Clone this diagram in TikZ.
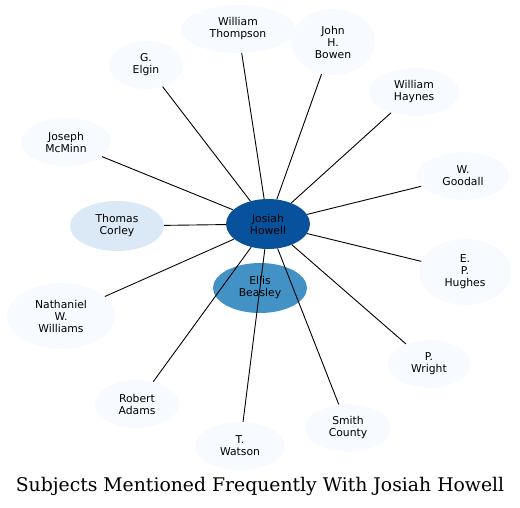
\documentclass[tikz,border=0pt]{standalone}
\usepackage{fontspec}
\setmainfont{DejaVu Serif}
\newfontfamily\subjfont{DejaVu Sans}
\usetikzlibrary{shapes.geometric}
\definecolor{palesubj}{HTML}{F7FBFF}
\definecolor{lightsubj}{HTML}{DBE9F6}
\definecolor{midsubj}{HTML}{4292C6}
\definecolor{hubsubj}{HTML}{08519C}
\tikzset{
  subj/.style={ellipse, fill=palesubj, inner sep=0pt, align=center,
    font=\subjfont\fontsize{10.8}{12}\selectfont},
  subjlink/.style={draw=black, line width=0.9pt},
  figtitle/.style={font=\fontsize{18.8}{22}\selectfont},
}

\begin{document}
\begin{tikzpicture}[x=1pt, y=-1pt]
  \useasboundingbox (0,0) rectangle (520,507);
  % centre and its closest subjects
  \node[subj, fill=hubsubj, minimum width=84pt, minimum height=50pt] (howell) at (268,224) {Josiah\\Howell};
  \node[subj, fill=midsubj, minimum width=94pt, minimum height=50pt] (beasley) at (260,288) {Ellis\\Beasley};
  \node[subj, fill=lightsubj, minimum width=94pt, minimum height=50pt] (corley) at (117,226) {Thomas\\Corley};
  % outer ring
  \node[subj, minimum width=114pt, minimum height=48pt] (thompson) at (238,29) {William\\Thompson};
  \node[subj, minimum width=84pt, minimum height=66pt] (bowen) at (333,42) {John\\H.\\Bowen};
  \node[subj, minimum width=74pt, minimum height=48pt] (elgin) at (146,65) {G.\\Elgin};
  \node[subj, minimum width=90pt, minimum height=48pt] (haynes) at (414,92) {William\\Haynes};
  \node[subj, minimum width=90pt, minimum height=48pt] (mcminn) at (66,142) {Joseph\\McMinn};
  \node[subj, minimum width=92pt, minimum height=48pt] (goodall) at (463,176) {W.\\Goodall};
  \node[subj, minimum width=92pt, minimum height=66pt] (hughes) at (465,272) {E.\\P.\\Hughes};
  \node[subj, minimum width=108pt, minimum height=66pt] (williams) at (61,316) {Nathaniel\\W.\\Williams};
  \node[subj, minimum width=82pt, minimum height=48pt] (wright) at (429,364) {P.\\Wright};
  \node[subj, minimum width=84pt, minimum height=48pt] (adams) at (137,404) {Robert\\Adams};
  \node[subj, minimum width=86pt, minimum height=48pt] (smith) at (348,428) {Smith\\County};
  \node[subj, minimum width=90pt, minimum height=48pt] (watson) at (240,446) {T.\\Watson};
  % links from the centre
  \foreach \other in {corley,thompson,bowen,elgin,haynes,mcminn,goodall,hughes,williams,wright,adams,smith,watson}
    \draw[subjlink] (howell) -- (\other);
  \node[figtitle] (title) at (260,486) {Subjects Mentioned Frequently With Josiah Howell};
\end{tikzpicture}
\end{document}
